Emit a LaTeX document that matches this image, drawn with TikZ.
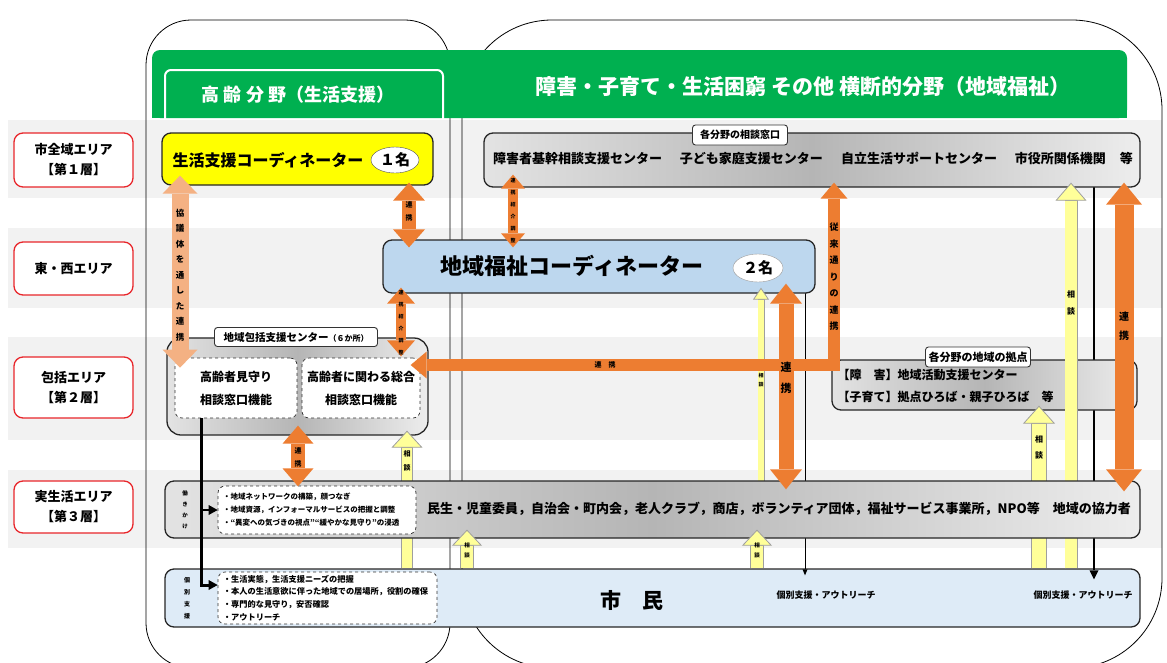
\documentclass[tikz,border=0pt]{standalone}
\usepackage{fontspec}
\setmainfont{Noto Sans CJK JP}
\usetikzlibrary{arrows.meta,shapes.geometric,calc}

\definecolor{orgc}{HTML}{ED7D31}
\definecolor{lorgc}{HTML}{F4B183}
\definecolor{yelc}{HTML}{FFFF99}
\definecolor{coordyel}{HTML}{FFFF00}
\definecolor{bluec}{HTML}{BDD7EE}
\definecolor{lbluec}{HTML}{DEEBF7}
\definecolor{grnc}{HTML}{00B050}
\definecolor{bandc}{HTML}{F2F2F2}
\definecolor{redc}{HTML}{E8262B}
\newcommand{\fsz}[2]{\fontsize{#1}{#2}\selectfont\bfseries}

\tikzset{
  area/.style={draw=redc, line width=1.3pt, rounded corners=9pt, fill=white,
    minimum width=119pt, align=center, font=\fsz{13}{20}},
  box/.style={draw=black!85, line width=1.3pt, rounded corners=9pt, inner sep=0pt},
  graybox/.style={box, left color=gray!22, right color=gray!14, middle color=gray!58},
  dbox/.style={draw=black!80, dashed, line width=0.7pt, fill=white, rounded corners=7pt, inner sep=0pt},
  tab/.style={draw=black!80, line width=0.9pt, fill=white, rounded corners=3pt, inner sep=0pt},
  tate/.style={align=center, inner sep=0pt},
  oarr/.style n args={3}{draw=orgc, line width=#1,
    {Triangle[width=#2,length=#3,line width=0pt]}-{Triangle[width=#2,length=#3,line width=0pt]}},
  yarr/.style n args={3}{draw=gray!75, line width=#1,
    -{Triangle[width=#2,length=#3,fill=yelc,line width=0.8pt]},
    postaction={draw=yelc, line width=#1-1.6pt, -, shorten >=#3}},
}

\begin{document}
\begin{tikzpicture}[x=1pt,y=-1pt]
\useasboundingbox (0,0) rectangle (1167,662);

\foreach \ya/\yb in {120/198,228/308,337/440,470/548}
  \fill[bandc] (8,\ya) rectangle (1162,\yb);

\draw[line width=0.8pt, rounded corners=45pt] (146,20) rectangle (450,668);
\draw[line width=0.8pt, rounded corners=90pt] (462,20) rectangle (1162,668);

\node[fill=grnc, rounded corners=8pt, minimum width=975pt, minimum height=68pt, inner sep=0pt] (header) at (639.5,84) {};
\fill[grnc] (152,100) rectangle (1127,118);
\draw[white, line width=2pt, rounded corners=6pt] (165,119) -- (165,70) -- (443,70) -- (443,119);
\node[text=white, font=\fsz{18}{18}] (koureitab) at (298,95) {高 齢 分 野（生活支援）};
\node[text=white, font=\fsz{21}{21}] (yokodan) at (803,87) {障害・子育て・生活困窮 その他 横断的分野（地域福祉）};

\node[area, minimum height=54pt] (layer1) at (73.5,160) {市全域エリア\\【第１層】};
\node[area, minimum height=53pt] (layer2) at (73.5,268.5) {東・西エリア};
\node[area, minimum height=61pt] (layer3) at (73.5,387.5) {包括エリア\\【第２層】};
\node[area, minimum height=52pt] (layer4) at (73.5,507) {実生活エリア\\【第３層】};

\node[box, fill=lbluec, minimum width=975pt, minimum height=58pt] (shimin) at (652.5,598) {};
\node[dbox, text width=209pt, inner xsep=5pt, minimum height=52pt, align=left, font=\fsz{8.2}{12.7}] (kobetsu) at (327.5,598)
  {・生活実態，生活支援ニーズの把握\\・本人の生活意欲に伴った地域での居場所，役割の確保\\・専門的な見守り，安否確認\\・アウトリーチ};
\node[tate, font=\fsz{6}{12}] (kobetsulbl) at (187,598) {個\\別\\支\\援};
\node[font=\fsz{21}{21}] (shimintxt) at (632,600) {市　民};
\node[font=\fsz{9}{9}] (outreach1) at (826,595) {個別支援・アウトリーチ};
\node[font=\fsz{9}{9}] (outreach2) at (1083,595) {個別支援・アウトリーチ};

\draw[line width=0.8pt, -{Triangle[width=5pt,length=6pt,line width=0pt]}] (805,293) -- ($(shimin.north -| 805,0)+(0,7)$);
\draw[line width=1.8pt, -{Triangle[width=9pt,length=9pt,line width=0pt]}] (1094,187) -- ($(shimin.north -| 1094,0)+(0,11)$);

\node[graybox, minimum width=656pt, minimum height=54pt] (madoguchi) at (812,160) {};
\node[font=\fsz{13}{13}] (madotxt) at (813,158) {障害者基幹相談支援センター\hspace{18pt}子ども家庭支援センター\hspace{18pt}自立生活サポートセンター\hspace{18pt}市役所関係機関\hspace{14pt}等};
\node[tab, font=\fsz{10}{10}, minimum width=95pt, minimum height=20pt] (madotab) at (740,135) {各分野の相談窓口};

\node[box, fill=coordyel, minimum width=271pt, minimum height=52pt] (seikatsu) at (297.5,159) {};
\node[font=\fsz{16}{16}] (seikatsutxt) at (268,160) {生活支援コーディネーター};
\node[ellipse, draw=black!70, fill=white, minimum width=48pt, minimum height=26pt, inner sep=0pt, font=\fsz{15}{15}] (ninzu1) at (395,160) {１名};

\node[box, fill=bluec, minimum width=432pt, minimum height=53pt] (chiiki) at (599,266.5) {};
\node[font=\fsz{22}{22}] (chiikitxt) at (572,266) {地域福祉コーディネーター};
\node[ellipse, draw=black!40, fill=white, minimum width=50pt, minimum height=28pt, inner sep=0pt, font=\fsz{15}{15}] (ninzu2) at (758,268) {２名};

\node[graybox, rounded corners=14pt, minimum width=261pt, minimum height=97pt] (houkatsu) at (297.5,386.5) {};
\node[dbox, minimum width=122pt, minimum height=60pt, align=center, font=\fsz{12}{23}] (mimamori) at (236,388) {高齢者見守り\\相談窓口機能};
\node[dbox, minimum width=118pt, minimum height=60pt, align=center, font=\fsz{12}{23}] (sougou) at (361,388) {高齢者に関わる総合\\相談窓口機能};
\node[tab, font=\fsz{10.5}{10.5}, minimum width=163pt, minimum height=19pt] (houkatab) at (296,337) {地域包括支援センター{\fsz{8}{8}（６か所）}};

\node[graybox, minimum width=305pt, minimum height=50pt] (kyoten) at (984.5,385) {};
\node[font=\fsz{12}{22}, align=left, anchor=west] (kyotentxt) at (834,386) {【障　害】地域活動支援センター\\【子育て】拠点ひろば・親子ひろば　等};
\node[tab, font=\fsz{11}{11}, minimum width=105pt, minimum height=20pt] (kyotentab) at (978,357) {各分野の地域の拠点};

\draw[yarr={7pt}{16pt}{12pt}] (761,481) -- ($(chiiki.south -| 761,0)+(0,-6)$);
\draw[yarr={12pt}{31pt}{17pt}] (shimin.north -| 407,0) -- ($(houkatsu.south -| 407,0)+(0,-5)$);
\draw[yarr={16pt}{32pt}{18pt}] (shimin.north -| 1039,0) -- ($(kyoten.south -| 1039,0)+(0,-5)$);
\draw[yarr={13pt}{31pt}{18pt}] (shimin.north -| 1071,0) -- ($(madoguchi.south -| 1071,0)+(0,-5)$);

\node[graybox, minimum width=975pt, minimum height=57pt] (jisseikatsu) at (652.5,509.5) {};
\node[dbox, text width=188pt, inner xsep=5pt, minimum height=48pt, align=left, font=\fsz{7.5}{13}] (hataraki) at (317,510)
  {・地域ネットワークの構築，顔つなぎ\\・地域資源，インフォーマルサービスの把握と調整\\・“異変への気づきの視点”“緩やかな見守り”の浸透};
\node[tate, font=\fsz{5.5}{11}] (hatarakilbl) at (185,510) {働\\き\\か\\け};
\node[font=\fsz{13}{13}] (kyoryoku) at (779,509) {民生・児童委員，自治会・町内会，老人クラブ，商店，ボランティア団体，福祉サービス事業所，NPO等　地域の協力者};

\draw[line width=3pt, -{Triangle[width=10pt,length=9pt,line width=0pt]}] (mimamori.south -| 201,0) |- ($(kobetsu.west)+(0,-13)$);
\draw[line width=2.5pt, -{Triangle[width=10pt,length=9pt,line width=0pt]}] (201,0 |- hataraki.west) -- (hataraki.west);

\draw[oarr={17pt}{35pt}{18pt}, draw=lorgc, shorten <=-10pt, shorten >=-10pt] (seikatsu.south -| 180,0) -- (mimamori.north -| 180,0);
\draw[oarr={14pt}{32pt}{18pt}, shorten <=-3pt, shorten >=-8pt] (seikatsu.south -| 409,0) -- (chiiki.north -| 409,0);
\draw[oarr={10pt}{24pt}{14pt}, shorten <=-13pt, shorten >=-8pt] (madoguchi.south -| 513,0) -- (chiiki.north -| 513,0);
\draw[oarr={10pt}{28pt}{16pt}, shorten <=-6pt, shorten >=-19pt] (chiiki.south -| 401,0) -- (houkatsu.north -| 401,0);
\draw[oarr={12pt}{27pt}{16pt}, shorten <=-5pt, shorten >=-18pt] (madoguchi.south -| 834,0) |- (houkatsu.east |- 0,365);
\draw[oarr={15pt}{32pt}{20pt}, shorten <=-10pt, shorten >=-9pt] (chiiki.south -| 786,0) -- (jisseikatsu.north -| 786,0);
\draw[oarr={19pt}{36pt}{22pt}, shorten <=-5pt, shorten >=-11pt] (madoguchi.south -| 1124,0) -- (jisseikatsu.north -| 1124,0);
\draw[oarr={14pt}{31pt}{18pt}, shorten <=-10pt, shorten >=-6pt] (houkatsu.south -| 298,0) -- (jisseikatsu.north -| 298,0);
\draw[yarr={14pt}{30pt}{16pt}] (shimin.north -| 467,0) -- ($(jisseikatsu.south -| 467,0)+(0,-9)$);
\draw[yarr={14pt}{30pt}{16pt}] (shimin.north -| 757,0) -- ($(jisseikatsu.south -| 757,0)+(0,-9)$);

\node[tate, font=\fsz{8.5}{15.5}] (lblA) at (180,275) {協\\議\\体\\を\\通\\し\\た\\連\\携};
\node[tate, font=\fsz{7}{13}] (lblB) at (409,211) {連\\携};
\node[tate, font=\fsz{5}{12}] (lblC) at (513,211) {連\\携\\紹\\介\\調\\整};
\node[tate, font=\fsz{5}{12}] (lblD) at (401,323) {連\\携\\紹\\介\\調\\整};
\node[tate, font=\fsz{9}{16.5}] (lblE) at (834,277) {従\\来\\通\\り\\の\\連\\携};
\node[font=\fsz{7}{7}, inner sep=0pt] (lblEh) at (605,365) {連　携};
\node[tate, font=\fsz{11}{21}] (lblF) at (786,378) {連\\携};
\node[tate, font=\fsz{10}{19}] (lblG) at (1124,326) {連\\携};
\node[tate, font=\fsz{7}{13}] (lblH) at (298,457) {連\\携};
\node[tate, font=\fsz{5}{9}] (lblY1) at (761,380) {相\\談};
\node[tate, font=\fsz{7}{14}] (lblY2) at (407,461) {相\\談};
\node[tate, font=\fsz{5.5}{10}] (lblY3) at (467,550) {相\\談};
\node[tate, font=\fsz{5.5}{10}] (lblY4) at (757,550) {相\\談};
\node[tate, font=\fsz{8}{16}] (lblY5) at (1039,447) {相\\談};
\node[tate, font=\fsz{8}{17}] (lblY6) at (1071,303) {相\\談};
\end{tikzpicture}
\end{document}
